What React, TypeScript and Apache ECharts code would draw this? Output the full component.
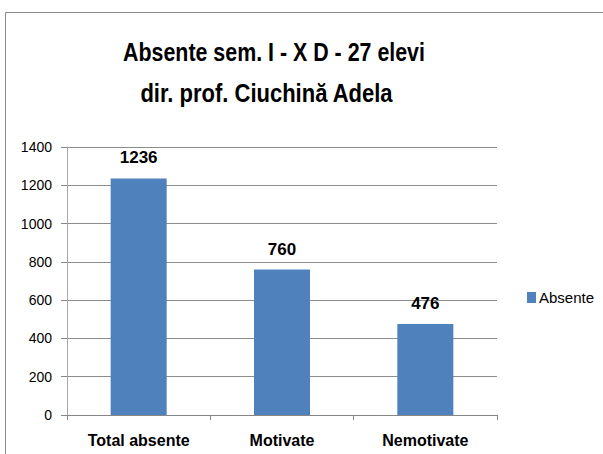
import React, { useEffect, useRef } from "react";
import * as echarts from "echarts";

const categories = ["Total absente", "Motivate", "Nemotivate"];
const values = [1236, 760, 476];
const seriesName = "Absente";
const titleLines = ["Absente sem. I - X D - 27 elevi", "dir. prof. Ciuchină Adela"];

const SANS = '"Liberation Sans", Arial, sans-serif';

function measure(text: string, font: string): number {
  const c = document.createElement("canvas").getContext("2d");
  if (!c) return 0;
  c.font = font;
  return c.measureText(text).width;
}

export default function App() {
  const ref = useRef<HTMLDivElement>(null);
  useEffect(() => {
    const chart = echarts.init(ref.current!, null, { renderer: "svg" });
    const tSize = 26;
    const tFont = `bold ${tSize}px "Liberation Sans"`;
    // condensed look: scale text horizontally to match the reference widths
    const targets = [
      { cx: 274, base: 61, w: 302 },
      { cx: 266.5, base: 102, w: 253 },
    ];
    const titleGraphics = titleLines.map((line, i) => {
      const m = measure(line, tFont) || 1;
      const s = targets[i].w / m;
      return {
        type: "text",
        x: targets[i].cx,
        y: targets[i].base - 0.35 * tSize,
        scaleX: s > 0 && s < 2 ? s : 0.8,
        silent: true,
        style: {
          text: line,
          x: 0,
          y: 0,
          align: "center",
          verticalAlign: "middle",
          fontFamily: '"Liberation Sans", Arial, sans-serif',
          fontWeight: "bold",
          fontSize: tSize,
          fill: "#000",
        },
      };
    });
    chart.setOption({
      animation: false,
      backgroundColor: "#ffffff",
      graphic: [
        {
          type: "rect",
          shape: { x: 5.5, y: 12.5, width: 700, height: 500 },
          style: { fill: "none", stroke: "#8a8a8a", lineWidth: 1 },
          silent: true,
        },
        ...titleGraphics,
      ],
      legend: {
        left: 522,
        top: 285,
        itemWidth: 9,
        itemHeight: 11,
        itemGap: 4,
        icon: "rect",
        data: [seriesName],
        textStyle: { fontFamily: SANS, fontSize: 15, color: "#000", padding: [0, 0, 0, -2] },
      },
      grid: { left: 67, right: 106, top: 147, bottom: 39 },
      xAxis: {
        type: "category",
        data: categories,
        axisLine: { lineStyle: { color: "#868686", width: 1 } },
        axisTick: { show: true, alignWithLabel: false, length: 5, lineStyle: { color: "#868686" } },
        axisLabel: {
          margin: 17,
          fontFamily: SANS,
          fontWeight: "bold",
          fontSize: 16,
          color: "#000",
        },
      },
      yAxis: {
        type: "value",
        min: 0,
        max: 1400,
        interval: 200,
        axisLine: { show: true, lineStyle: { color: "#a6a6a6", width: 1 } },
        axisTick: { show: true, length: 6, lineStyle: { color: "#868686" } },
        splitLine: { show: true, lineStyle: { color: "#8c8c8c", width: 1 } },
        axisLabel: {
          margin: 15,
          fontFamily: SANS,
          fontSize: 14,
          color: "#000",
          formatter: (v: number) => String(v),
        },
      },
      series: [
        {
          name: seriesName,
          type: "bar",
          data: values,
          barWidth: 56,
          itemStyle: { color: "#4F81BD" },
          label: {
            show: true,
            position: "top",
            distance: 12,
            fontFamily: SANS,
            fontWeight: "bold",
            fontSize: 17,
            color: "#000",
          },
        },
      ],
    });
    return () => chart.dispose();
  }, []);
  return (
    <div
      ref={ref}
      style={{ position: "fixed", left: 0, top: 0, width: 603, height: 454 }}
    />
  );
}
